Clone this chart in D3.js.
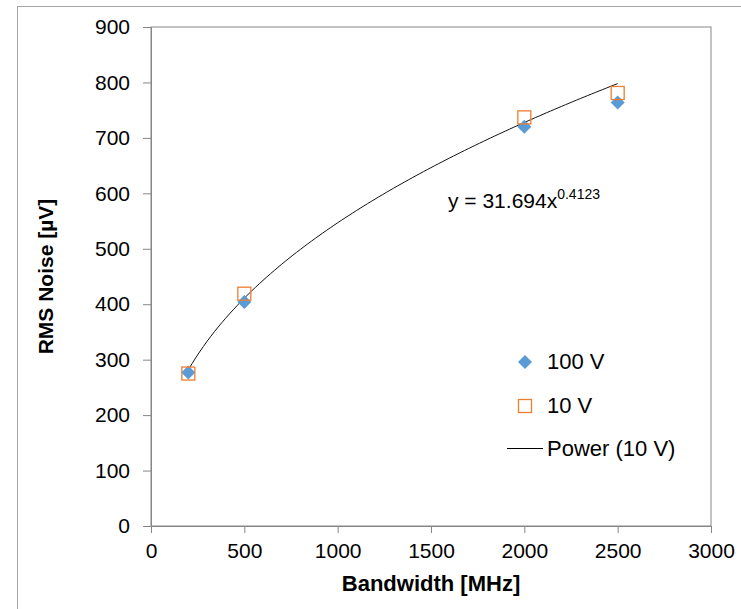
<!DOCTYPE html>
<html>
<head>
<meta charset="utf-8">
<script src="https://cdn.jsdelivr.net/npm/d3@7"></script>
<style>
  body { margin: 0; background: #fff; }
  text { font-family: "Liberation Sans", Arial, sans-serif; fill: #000; }
</style>
</head>
<body>
<script>
var w = 741, h = 609,
    margin = { left: 151, right: 30, top: 27, bottom: 83 };

// data
var bandwidth = [200, 500, 2000, 2500];
var noise100V = [277, 404, 720, 764];
var noise10V = [275, 419, 737, 781];
var trendCoef = 31.694, trendExp = 0.4123;   // Power (10 V) as printed on the chart
var xTicks = [0, 500, 1000, 1500, 2000, 2500, 3000];
var yTicks = [0, 100, 200, 300, 400, 500, 600, 700, 800, 900];

var svg = d3.select("body").append("svg")
    .attr("width", w)
    .attr("height", h)

// outer frame (right / bottom run off the picture)
svg.append("rect")
    .attr("x", 17.5).attr("y", 6.5)
    .attr("width", 760).attr("height", 640)
    .attr("fill", "none").attr("stroke", "#a6a6a6")

var x = d3.scaleLinear().domain([0, 3000]).range([margin.left, w - margin.right])
var y = d3.scaleLinear().domain([0, 900]).range([h - margin.bottom, margin.top])

// plot box
svg.append("rect")
    .attr("x", x(0)).attr("y", y(900))
    .attr("width", x(3000) - x(0)).attr("height", y(0) - y(900))
    .attr("fill", "none").attr("stroke", "#868686")

var xAxis = svg.append("g")
    .attr("transform", "translate(0," + y(0) + ")")
    .call(d3.axisBottom(x).tickValues(xTicks).tickSize(7).tickPadding(10).tickFormat(d3.format("d")))
var yAxis = svg.append("g")
    .attr("transform", "translate(" + x(0) + ",0)")
    .call(d3.axisLeft(y).tickValues(yTicks).tickSize(8).tickPadding(13).tickFormat(d3.format("d")))

svg.selectAll(".domain").attr("stroke", "#868686")
svg.selectAll(".tick line").attr("stroke", "#868686")
svg.selectAll(".tick text")
    .style("font-family", "'Liberation Sans', Arial, sans-serif")
    .style("font-size", "21px")
    .attr("fill", "#000")

// axis titles
svg.append("text")
    .attr("x", (x(0) + x(3000)) / 2).attr("y", 591)
    .attr("text-anchor", "middle")
    .style("font-size", "22px").style("font-weight", "bold")
    .text("Bandwidth [MHz]")
svg.append("text")
    .attr("transform", "translate(53," + (y(0) + y(900)) / 2 + ") rotate(-90)")
    .attr("text-anchor", "middle")
    .style("font-size", "21px").style("font-weight", "bold")
    .text("RMS Noise [µV]")

// trend line
var trendX = d3.range(bandwidth[0], bandwidth[bandwidth.length - 1] + 1, 20)
var line = d3.line()
    .x(function (d) { return x(d) })
    .y(function (d) { return y(trendCoef * Math.pow(d, trendExp)) })
svg.append("path")
    .datum(trendX)
    .attr("d", line)
    .attr("fill", "none")
    .attr("stroke", "#111")
    .attr("stroke-width", 1)

var diamond = d3.symbol().type(d3.symbolSquare).size(98)

svg.selectAll(".d100").data(bandwidth).enter().append("path")
    .attr("class", "d100")
    .attr("d", diamond)
    .attr("transform", function (d, i) { return "translate(" + x(d) + "," + y(noise100V[i]) + ") rotate(45)" })
    .attr("fill", "#5b9bd5")

svg.selectAll(".s10").data(bandwidth).enter().append("rect")
    .attr("class", "s10")
    .attr("x", function (d) { return x(d) - 6.5 })
    .attr("y", function (d, i) { return y(noise10V[i]) - 6.5 })
    .attr("width", 13).attr("height", 13)
    .attr("fill", "none")
    .attr("stroke", "#ed7d31")
    .attr("stroke-width", 1.3)

// equation
var eq = svg.append("text")
    .attr("x", 448).attr("y", 208)
    .style("font-size", "21px")
eq.append("tspan").text("y = 31.694x")
eq.append("tspan").attr("dy", -9).style("font-size", "14px").text("0.4123")

// legend
var legend = svg.append("g")
legend.append("path")
    .attr("d", diamond)
    .attr("transform", "translate(525,362) rotate(45)")
    .attr("fill", "#5b9bd5")
legend.append("rect")
    .attr("x", 518.5).attr("y", 399.5).attr("width", 13).attr("height", 13)
    .attr("fill", "none").attr("stroke", "#ed7d31").attr("stroke-width", 1.3)
legend.append("line")
    .attr("x1", 507).attr("x2", 543).attr("y1", 448.5).attr("y2", 448.5)
    .attr("stroke", "#000")
var labels = ["100 V", "10 V", "Power (10 V)"]
legend.selectAll(".lt").data(labels).enter().append("text")
    .attr("class", "lt")
    .attr("x", 547)
    .attr("y", function (d, i) { return 369 + i * 43.5 })
    .style("font-size", "22px")
    .text(function (d) { return d })
</script>
</body>
</html>
